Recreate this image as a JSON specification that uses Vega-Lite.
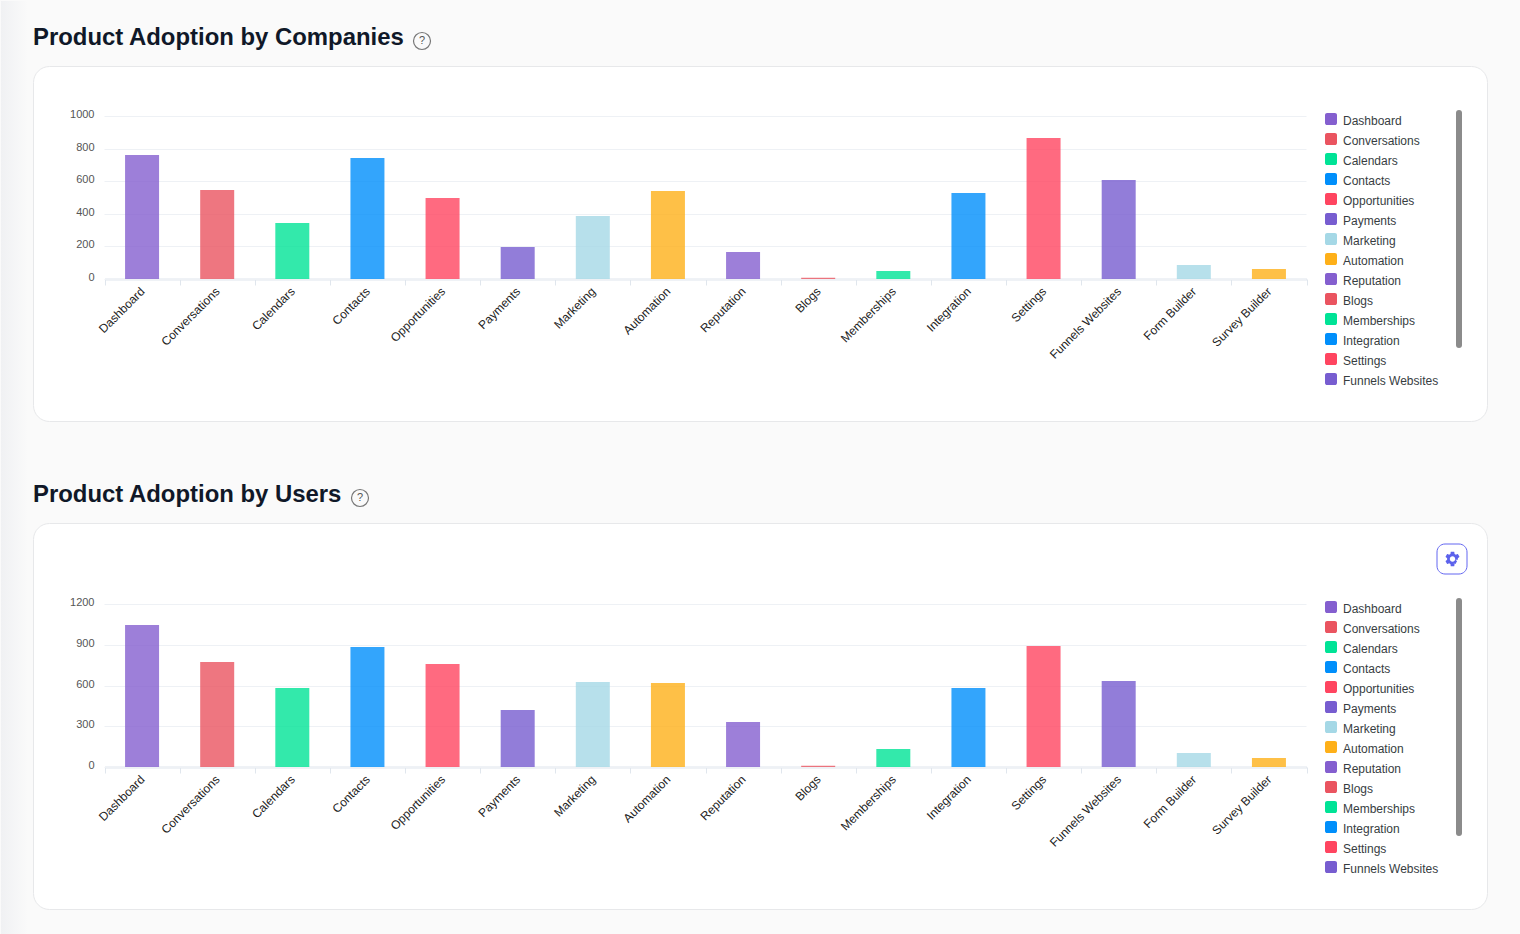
{
  "$schema": "https://vega.github.io/schema/vega-lite/v6.json",
  "description": "Product adoption by companies and by users",
  "background": "#fafafa",
  "padding": 0,
  "bounds": "flush",
  "spacing": 102,
  "config": {
    "font": "Liberation Sans",
    "axis": {"labelFont": "Liberation Sans"},
    "legend": {"labelFont": "Liberation Sans"}
  },
  "datasets": {
    "companies": [
      {"product": "Dashboard", "count": 761},
      {"product": "Conversations", "count": 546},
      {"product": "Calendars", "count": 344},
      {"product": "Contacts", "count": 742},
      {"product": "Opportunities", "count": 497},
      {"product": "Payments", "count": 196},
      {"product": "Marketing", "count": 386},
      {"product": "Automation", "count": 540},
      {"product": "Reputation", "count": 166},
      {"product": "Blogs", "count": 8},
      {"product": "Memberships", "count": 49},
      {"product": "Integration", "count": 528},
      {"product": "Settings", "count": 865},
      {"product": "Funnels Websites", "count": 607},
      {"product": "Form Builder", "count": 86},
      {"product": "Survey Builder", "count": 61}
    ],
    "users": [
      {"product": "Dashboard", "count": 1045},
      {"product": "Conversations", "count": 773},
      {"product": "Calendars", "count": 582},
      {"product": "Contacts", "count": 884},
      {"product": "Opportunities", "count": 758},
      {"product": "Payments", "count": 420},
      {"product": "Marketing", "count": 626},
      {"product": "Automation", "count": 618},
      {"product": "Reputation", "count": 331},
      {"product": "Blogs", "count": 9},
      {"product": "Memberships", "count": 132},
      {"product": "Integration", "count": 582},
      {"product": "Settings", "count": 891},
      {"product": "Funnels Websites", "count": 633},
      {"product": "Form Builder", "count": 103},
      {"product": "Survey Builder", "count": 66}
    ]
  },
  "vconcat": [
    {
      "width": 1454,
      "height": 355,
      "view": {"fill": "white", "stroke": "#e7e8ea", "cornerRadius": 16},
      "layer": [
        {
          "data": {"values": [{}]},
          "mark": {"type": "rect", "fill": {"gradient": "linear", "x1": 0, "x2": 1, "y1": 0, "y2": 0, "stops": [{"offset": 0, "color": "#f0f1f3"}, {"offset": 1, "color": "#fafafa"}]}},
          "encoding": {"x": {"value": -32}, "x2": {"value": -5}, "y": {"value": -65}, "y2": {"value": 868}}
        },
        {
          "data": {"values": [{}]},
          "mark": {"type": "rect", "fill": "#fafafa"},
          "encoding": {"x": {"value": 1456}, "x2": {"value": 1487}, "y": {"value": -65}, "y2": {"value": 868}}
        },
        {
          "data": {"values": [{}]},
          "mark": {"type": "text", "text": "Product Adoption by Companies", "align": "left", "baseline": "middle", "font": "Liberation Sans", "fontSize": 23.9, "fontWeight": "bold", "color": "#101828"},
          "encoding": {"x": {"value": 0}, "y": {"value": -28}}
        },
        {
          "data": {"name": "companies"},
          "mark": {"type": "bar", "size": 34, "opacity": 0.8},
          "encoding": {
            "x": {
              "field": "product",
              "type": "nominal",
              "sort": null,
              "title": null,
              "scale": {"range": [71.5, 1273.5], "paddingInner": 0, "paddingOuter": 0},
              "axis": {"offset": -142, "labelAngle": -45, "labelAlign": "right", "labelBaseline": "middle", "labelFontSize": 12, "labelColor": "#222222", "labelPadding": 4, "labelLimit": 200, "domainColor": "#e0e6ed", "domainWidth": 2, "tickColor": "#e0e6ed", "tickSize": 6, "tickBand": "extent"}
            },
            "y": {
              "field": "count",
              "type": "quantitative",
              "title": null,
              "scale": {"domain": [0, 1000], "range": [213, 50], "nice": false},
              "axis": {"offset": -71, "values": [0, 200, 400, 600, 800, 1000], "format": "d", "domain": false, "grid": false, "tickSize": -1202, "tickColor": "#eef1f5", "tickWidth": 1, "labelFontSize": 11, "labelColor": "#555555", "labelPadding": 1212, "labelOffset": -1.5}
            },
            "color": {
              "field": "product",
              "type": "nominal",
              "scale": {
                "domain": ["Dashboard", "Conversations", "Calendars", "Contacts", "Opportunities", "Payments", "Marketing", "Automation", "Reputation", "Blogs", "Memberships", "Integration", "Settings", "Funnels Websites", "Form Builder", "Survey Builder"],
                "range": ["#845fcf", "#ea5460", "#00e396", "#008ffb", "#ff4560", "#775dd0", "#a5d8e6", "#feb019", "#845fcf", "#ea5460", "#00e396", "#008ffb", "#ff4560", "#775dd0", "#a5d8e6", "#feb019"]
              },
              "legend": {
                "title": null,
                "orient": "none",
                "legendX": 1292,
                "legendY": 47,
                "values": ["Dashboard", "Conversations", "Calendars", "Contacts", "Opportunities", "Payments", "Marketing", "Automation", "Reputation", "Blogs", "Memberships", "Integration", "Settings", "Funnels Websites"],
                "symbolType": "M-.65,-1H.65A.35,.35 0 0 1 1,-.65V.65A.35,.35 0 0 1 .65,1H-.65A.35,.35 0 0 1 -1,.65V-.65A.35,.35 0 0 1 -.65,-1Z",
                "symbolSize": 144,
                "symbolOpacity": 1,
                "symbolStrokeWidth": 0,
                "labelFontSize": 12,
                "labelColor": "#373d3f",
                "labelOffset": 6,
                "rowPadding": 6,
                "encode": {"labels": {"update": {"dy": {"value": 2}}}}
              }
            }
          }
        },
        {
          "data": {"values": [{}]},
          "mark": {"type": "rule", "stroke": "#8b8b8b", "strokeWidth": 6, "strokeCap": "round"},
          "encoding": {"x": {"value": 1426}, "y": {"value": 47}, "y2": {"value": 279}}
        },
        {
          "data": {"values": [{}]},
          "mark": {"type": "point", "shape": "circle", "size": 289, "stroke": "#777777", "strokeWidth": 1.2, "opacity": 1},
          "encoding": {"x": {"value": 389}, "y": {"value": -25}}
        },
        {
          "data": {"values": [{}]},
          "mark": {"type": "text", "text": "?", "fontSize": 11, "color": "#555555"},
          "encoding": {"x": {"value": 389}, "y": {"value": -25}}
        }
      ]
    },
    {
      "width": 1454,
      "height": 386,
      "view": {"fill": "white", "stroke": "#e7e8ea", "cornerRadius": 16},
      "layer": [
        {
          "data": {"values": [{}]},
          "mark": {"type": "text", "text": "Product Adoption by Users", "align": "left", "baseline": "middle", "font": "Liberation Sans", "fontSize": 23.9, "fontWeight": "bold", "color": "#101828"},
          "encoding": {"x": {"value": 0}, "y": {"value": -28}}
        },
        {
          "data": {"name": "users"},
          "mark": {"type": "bar", "size": 34, "opacity": 0.8},
          "encoding": {
            "x": {
              "field": "product",
              "type": "nominal",
              "sort": null,
              "title": null,
              "scale": {"range": [71.5, 1273.5], "paddingInner": 0, "paddingOuter": 0},
              "axis": {"offset": -142, "labelAngle": -45, "labelAlign": "right", "labelBaseline": "middle", "labelFontSize": 12, "labelColor": "#222222", "labelPadding": 4, "labelLimit": 200, "domainColor": "#e0e6ed", "domainWidth": 2, "tickColor": "#e0e6ed", "tickSize": 6, "tickBand": "extent"}
            },
            "y": {
              "field": "count",
              "type": "quantitative",
              "title": null,
              "scale": {"domain": [0, 1200], "range": [244, 81], "nice": false},
              "axis": {"offset": -71, "values": [0, 300, 600, 900, 1200], "format": "d", "domain": false, "grid": false, "tickSize": -1202, "tickColor": "#eef1f5", "tickWidth": 1, "labelFontSize": 11, "labelColor": "#555555", "labelPadding": 1212, "labelOffset": -1.5}
            },
            "color": {
              "field": "product",
              "type": "nominal",
              "scale": {
                "domain": ["Dashboard", "Conversations", "Calendars", "Contacts", "Opportunities", "Payments", "Marketing", "Automation", "Reputation", "Blogs", "Memberships", "Integration", "Settings", "Funnels Websites", "Form Builder", "Survey Builder"],
                "range": ["#845fcf", "#ea5460", "#00e396", "#008ffb", "#ff4560", "#775dd0", "#a5d8e6", "#feb019", "#845fcf", "#ea5460", "#00e396", "#008ffb", "#ff4560", "#775dd0", "#a5d8e6", "#feb019"]
              },
              "legend": {
                "title": null,
                "orient": "none",
                "legendX": 1292,
                "legendY": 78,
                "values": ["Dashboard", "Conversations", "Calendars", "Contacts", "Opportunities", "Payments", "Marketing", "Automation", "Reputation", "Blogs", "Memberships", "Integration", "Settings", "Funnels Websites"],
                "symbolType": "M-.65,-1H.65A.35,.35 0 0 1 1,-.65V.65A.35,.35 0 0 1 .65,1H-.65A.35,.35 0 0 1 -1,.65V-.65A.35,.35 0 0 1 -.65,-1Z",
                "symbolSize": 144,
                "symbolOpacity": 1,
                "symbolStrokeWidth": 0,
                "labelFontSize": 12,
                "labelColor": "#373d3f",
                "labelOffset": 6,
                "rowPadding": 6,
                "encode": {"labels": {"update": {"dy": {"value": 2}}}}
              }
            }
          }
        },
        {
          "data": {"values": [{}]},
          "mark": {"type": "rule", "stroke": "#8b8b8b", "strokeWidth": 6, "strokeCap": "round"},
          "encoding": {"x": {"value": 1426}, "y": {"value": 78}, "y2": {"value": 310}}
        },
        {
          "data": {"values": [{}]},
          "mark": {"type": "point", "shape": "circle", "size": 289, "stroke": "#777777", "strokeWidth": 1.2, "opacity": 1},
          "encoding": {"x": {"value": 327}, "y": {"value": -25}}
        },
        {
          "data": {"values": [{}]},
          "mark": {"type": "text", "text": "?", "fontSize": 11, "color": "#555555"},
          "encoding": {"x": {"value": 327}, "y": {"value": -25}}
        },
        {
          "data": {"values": [{}]},
          "mark": {"type": "rect", "fill": "white", "stroke": "#6366f1", "cornerRadius": 8},
          "encoding": {"x": {"value": 1404}, "x2": {"value": 1434}, "y": {"value": 21}, "y2": {"value": 51}}
        },
        {
          "data": {"values": [{}]},
          "mark": {"type": "point", "filled": true, "opacity": 1, "color": "#5c62ec", "size": 2.25, "shape": "M19.14 12.94c.04-.3.06-.61.06-.94 0-.32-.02-.64-.07-.94l2.03-1.58a.49.49 0 0 0 .12-.61l-1.92-3.32a.488.488 0 0 0-.59-.22l-2.39.96c-.5-.38-1.03-.7-1.62-.94l-.36-2.54a.484.484 0 0 0-.48-.41h-3.84c-.24 0-.43.17-.47.41l-.36 2.54c-.59.24-1.13.57-1.62.94l-2.39-.96c-.22-.08-.47 0-.59.22L2.74 8.87c-.12.21-.08.47.12.61l2.03 1.58c-.05.3-.09.63-.09.94s.02.64.07.94l-2.03 1.58a.49.49 0 0 0-.12.61l1.92 3.32c.12.22.37.29.59.22l2.39-.96c.5.38 1.03.7 1.62.94l.36 2.54c.05.24.24.41.48.41h3.84c.24 0 .44-.17.47-.41l.36-2.54c-.59-.24-1.13-.56-1.62-.94l2.39.96c.22.08.47 0 .59-.22l1.92-3.32c.12-.22.07-.47-.12-.61l-2.01-1.58zM12 15.6c-1.98 0-3.6-1.62-3.6-3.6s1.62-3.6 3.6-3.6 3.6 1.62 3.6 3.6-1.62 3.6-3.6 3.6z"},
          "encoding": {"x": {"value": 1410.5}, "y": {"value": 27}}
        }
      ]
    }
  ],
  "resolve": {"scale": {"color": "independent"}}
}
